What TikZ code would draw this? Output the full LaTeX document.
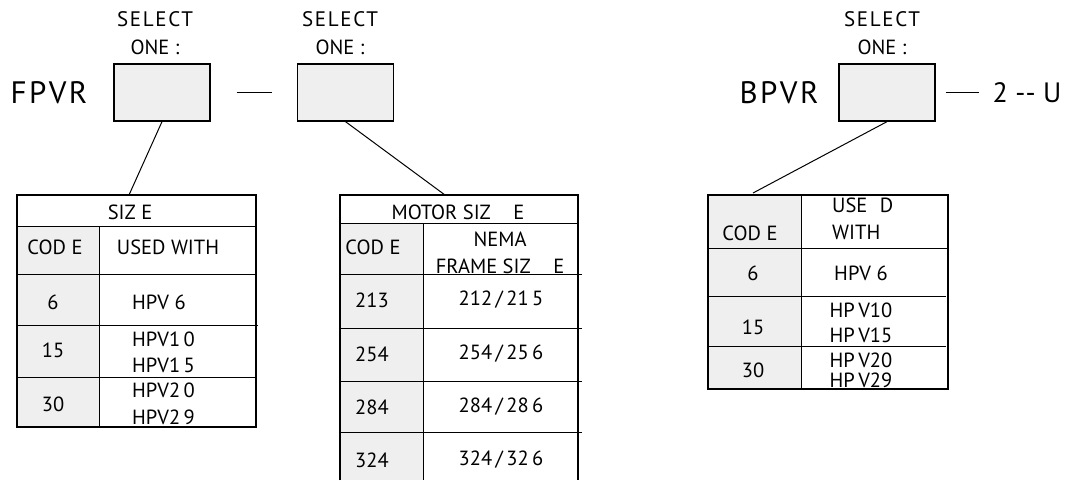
\documentclass[tikz,border=0pt]{standalone}
\usepackage{fontspec}
\setmainfont{PT Sans}
\newfontfamily\spacedfont[LetterSpace=8]{PT Sans}
\definecolor{boxgray}{HTML}{EFEFEF}
\tikzset{
  selbox/.style={draw,line width=1.3pt,fill=boxgray,minimum width=96pt,minimum height=57pt,inner sep=0pt},
  celltext/.style={font=\fontsize{20.5}{23}\selectfont,inner sep=0pt},
  headtext/.style={font=\spacedfont\fontsize{21}{24}\selectfont,inner sep=0pt},
  bigtext/.style={font=\spacedfont\fontsize{31}{34}\selectfont,inner sep=0pt},
  rowline/.style={line width=1pt},
  outline/.style={line width=1.3pt}
}
\begin{document}
\begin{tikzpicture}[x=1pt,y=-1pt]
\useasboundingbox (0,0) rectangle (1078,480);

\node[headtext] (selecta) at (155,19) {SELECT};
\node[celltext] (onea) at (155,47) {ONE :};
\node[headtext] (selectb) at (340,19) {SELECT};
\node[celltext] (oneb) at (340,47) {ONE :};
\node[headtext] (selectc) at (882,19) {SELECT};
\node[celltext] (onec) at (882,47) {ONE :};

\node[bigtext] (fpvr) at (49,93) {FPVR};
\node[selbox] (boxa) at (162,92.5) {};
\node[selbox] (boxb) at (345.5,92.5) {};
\draw[line width=1pt] ([xshift=26pt]boxa.east) -- ([xshift=-25pt]boxb.west);

\node[bigtext] (bpvr) at (779,93) {BPVR};
\node[selbox] (boxc) at (887,92.5) {};
\draw[line width=1pt] ([xshift=10pt]boxc.east) -- ([xshift=43pt]boxc.east);
\node[font=\fontsize{28}{31}\selectfont,inner sep=0pt] (suffix) at (1027,93) {2 -{}- U};

\coordinate (topa) at (129,195);
\coordinate (topb) at (445,195);
\coordinate (topc) at (753,193);
\draw[line width=1pt] (boxa.south) -- (topa);
\draw[line width=1pt] (boxb.south) -- (topb);
\draw[line width=1pt] (boxc.south) -- (topc);

\fill[boxgray] (17,226) rectangle (99,427);
\draw[rowline] (17,226) -- (256,226);
\draw[rowline] (17,274) -- (256,274);
\draw[rowline] (17,325) -- (258,325);
\draw[rowline] (17,377) -- (256,377);
\draw[rowline] (99,226) -- (99,427);
\draw[outline] (17,195) rectangle (256,427);
\node[celltext] (sizea) at (130,212) {SIZ E};
\node[celltext] (codea) at (55,247) {COD E};
\node[celltext] (useda) at (168,247) {USED WITH};
\node[celltext] (ca1) at (53,302) {6};
\node[celltext,anchor=west] (ua1) at (132,302) {HPV 6};
\node[celltext] (ca2) at (53,350) {15};
\node[celltext,anchor=west] (ua2) at (132,339) {HPV1\,0};
\node[celltext,anchor=west] (ua3) at (132,365) {HPV1\,5};
\node[celltext] (ca3) at (53,404) {30};
\node[celltext,anchor=west] (ua4) at (132,390) {HPV2\,0};
\node[celltext,anchor=west] (ua5) at (132,417) {HPV2\,9};

\fill[boxgray] (340,223) rectangle (423,480);
\draw[rowline] (340,223) -- (578,223);
\draw[rowline] (340,274) -- (582,274);
\draw[rowline] (340,328) -- (582,328);
\draw[rowline] (340,381) -- (582,381);
\draw[rowline] (340,432) -- (582,432);
\draw[rowline] (423,223) -- (423,480);
\draw[outline] (340,480) -- (340,195) -- (578,195) -- (578,480);
\node[celltext] (sizeb) at (458,212) {MOTOR SIZ\hspace{1.1em}E};
\node[celltext] (codeb) at (373,247) {COD E};
\node[celltext] (nema) at (500,239) {NEMA};
\node[celltext] (frame) at (500,266) {FRAME SIZ\hspace{1.1em}E};
\node[celltext] (cb1) at (372,300) {213};
\node[celltext] (fb1) at (501,300) {212\,/\,21\,5};
\node[celltext] (cb2) at (372,354) {254};
\node[celltext] (fb2) at (501,354) {254\,/\,25\,6};
\node[celltext] (cb3) at (372,407) {284};
\node[celltext] (fb3) at (501,407) {284\,/\,28\,6};
\node[celltext] (cb4) at (372,460) {324};
\node[celltext] (fb4) at (501,460) {324\,/\,32\,6};

\fill[boxgray] (708,195) rectangle (801,389);
\draw[rowline] (708,248) -- (948,248);
\draw[rowline] (708,296) -- (946,296);
\draw[rowline] (708,346) -- (946,346);
\draw[rowline] (801,195) -- (801,389);
\draw[outline] (708,195) rectangle (948,389);
\node[celltext] (codec) at (750,233) {COD E};
\node[celltext,anchor=west] (usec) at (832,205) {USE\hspace{0.6em}D};
\node[celltext,anchor=west] (withc) at (832,232) {WITH};
\node[celltext] (cc1) at (753,273) {6};
\node[celltext] (uc1) at (861,273) {HPV 6};
\node[celltext] (cc2) at (753,327) {15};
\node[celltext] (uc2) at (861,310) {HP\,V10};
\node[celltext] (uc3) at (861,335) {HP\,V15};
\node[celltext] (cc3) at (753,370) {30};
\node[celltext] (uc4) at (861,360) {HP\,V20};
\node[celltext] (uc5) at (861,380) {HP\,V29};
\end{tikzpicture}
\end{document}
